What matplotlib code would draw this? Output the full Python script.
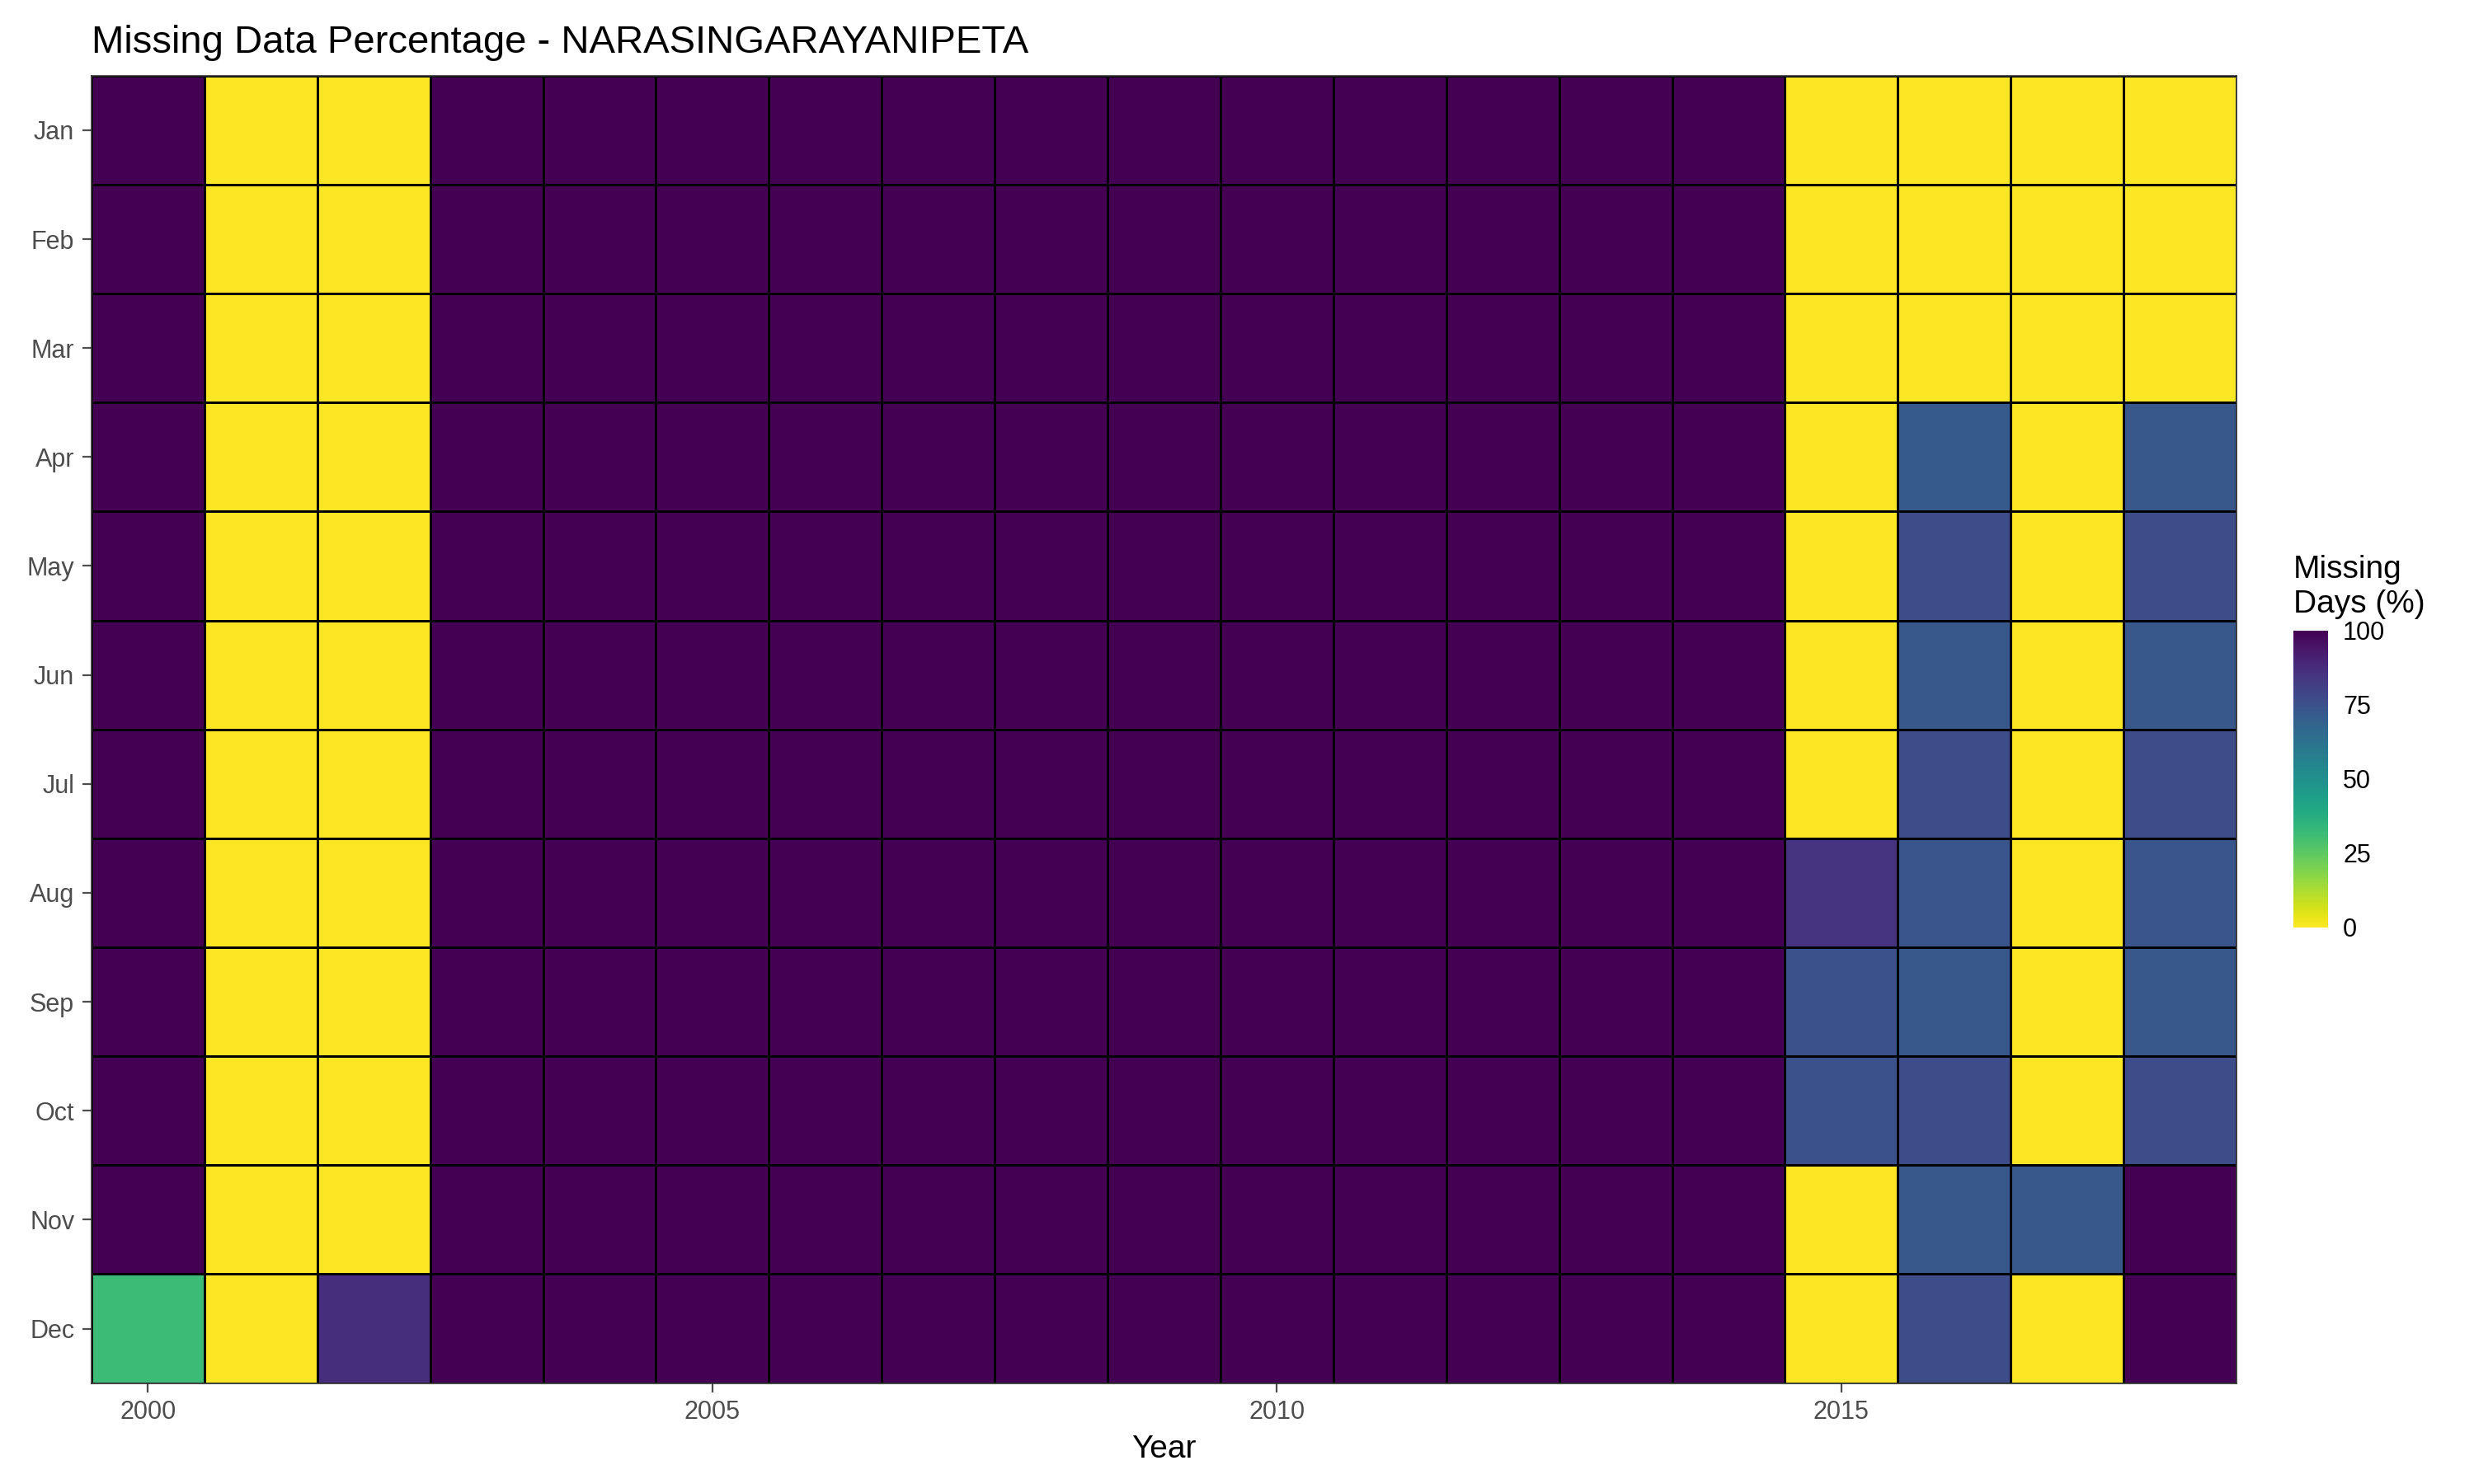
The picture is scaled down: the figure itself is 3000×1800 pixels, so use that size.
import numpy as np
import matplotlib.pyplot as plt

plt.rcParams['font.family'] = ['Arial', 'Liberation Sans', 'DejaVu Sans']

years = list(range(2000, 2019))
months = ['Jan', 'Feb', 'Mar', 'Apr', 'May', 'Jun', 'Jul', 'Aug', 'Sep', 'Oct', 'Nov', 'Dec']

# missing % per year, Jan..Dec
col_2000 = [100] * 11 + [32]
col_2001 = [0] * 12
col_2002 = [0] * 11 + [87]
col_full = [100] * 12  # 2003-2014
col_2015 = [0, 0, 0, 0, 0, 0, 0, 85, 75, 75, 0, 0]
col_2016 = [0, 0, 0, 72, 77, 73, 77, 74, 73, 77, 73, 77]
col_2017 = [0] * 10 + [73, 0]
col_2018 = [0, 0, 0, 73, 77, 73, 77, 74, 73, 77, 100, 100]

cols = [col_2000, col_2001, col_2002] + [col_full] * 12 + [col_2015, col_2016, col_2017, col_2018]
data = np.array(cols).T  # rows = months

fig = plt.figure(figsize=(15, 9), dpi=200)
ax = fig.add_axes([0.037, 0.068, 0.867, 0.881])
mesh = ax.pcolormesh(np.arange(2000, 2020) - 0.5, np.arange(13) - 0.5, data,
                     cmap='viridis_r', vmin=0, vmax=100, edgecolor='black', linewidth=0.4)
ax.set_xlim(1999.5, 2018.5)
ax.set_ylim(11.5, -0.5)
ax.set_yticks(range(12))
ax.set_yticklabels(months)
ax.set_xticks([2000, 2005, 2010, 2015])
ax.tick_params(colors='#4d4d4d', labelsize=11, length=4)
for lab in ax.get_xticklabels() + ax.get_yticklabels():
    lab.set_color('#4d4d4d')
for s in ax.spines.values():
    s.set_color('#333333')
    s.set_linewidth(0.6)
ax.set_xlabel('Year', fontsize=14)
ax.set_title('Missing Data Percentage - NARASINGARAYANIPETA', fontsize=17, loc='left', pad=10)

cax = fig.add_axes([0.927, 0.375, 0.014, 0.2])
cb = fig.colorbar(mesh, cax=cax, ticks=[0, 25, 50, 75, 100])
cb.outline.set_visible(False)
cb.ax.tick_params(labelsize=11, length=3, color='white')
cb.ax.set_title('Missing\nDays (%)', fontsize=14, loc='left', pad=8)

fig.savefig('out.png', dpi=200)
